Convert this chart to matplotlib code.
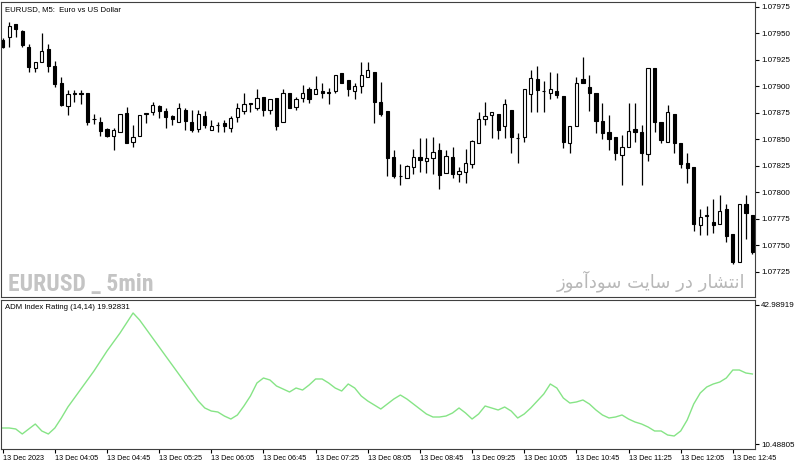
import numpy as np
import matplotlib
matplotlib.use("Agg")
import matplotlib.pyplot as plt

# EURUSD M5 candles, 13 Dec 2023 03:25 .. 13:00
opens = [1.07944, 1.07946, 1.07959, 1.07952, 1.07937, 1.07917, 1.07923, 1.07935, 1.07919, 1.07903,
         1.07881, 1.07893, 1.07894, 1.07894, 1.07869, 1.07866, 1.07860, 1.07853, 1.07857, 1.07875,
         1.07847, 1.07853, 1.07874, 1.07876, 1.07881, 1.07877, 1.07872, 1.07866, 1.07878, 1.07866,
         1.07860, 1.07872, 1.07859, 1.07863, 1.07865, 1.07861, 1.07871, 1.07877, 1.07884, 1.07879,
         1.07890, 1.07878, 1.07889, 1.07866, 1.07894, 1.07880, 1.07889, 1.07897, 1.07893, 1.07895,
         1.07894, 1.07895, 1.07912, 1.07906, 1.07895, 1.07900, 1.07909, 1.07913, 1.07885, 1.07877,
         1.07833, 1.07815, 1.07813, 1.07824, 1.07833, 1.07829, 1.07832, 1.07840, 1.07818, 1.07833,
         1.07817, 1.07819, 1.07827, 1.07846, 1.07869, 1.07873, 1.07874, 1.07862, 1.07878, 1.07851,
         1.07852, 1.07893, 1.07907, 1.07895, 1.07894, 1.07895, 1.07891, 1.07846, 1.07862, 1.07907,
         1.07899, 1.07894, 1.07867, 1.07857, 1.07852, 1.07835, 1.07843, 1.07860, 1.07857, 1.07836,
         1.07917, 1.07866, 1.07847, 1.07874, 1.07846, 1.07828, 1.07824, 1.07769, 1.07778, 1.07772,
         1.07770, 1.07784, 1.07761, 1.07734, 1.07789, 1.07779]
highs = [1.07945, 1.07961, 1.07959, 1.07953, 1.07940, 1.07923, 1.07950, 1.07940, 1.07924, 1.07909,
         1.07896, 1.07896, 1.07896, 1.07894, 1.07874, 1.07871, 1.07861, 1.07861, 1.07874, 1.07880,
         1.07863, 1.07873, 1.07874, 1.07885, 1.07882, 1.07879, 1.07873, 1.07884, 1.07879, 1.07878,
         1.07878, 1.07877, 1.07868, 1.07866, 1.07868, 1.07872, 1.07884, 1.07894, 1.07884, 1.07897,
         1.07890, 1.07888, 1.07889, 1.07897, 1.07894, 1.07890, 1.07901, 1.07899, 1.07910, 1.07903,
         1.07898, 1.07911, 1.07912, 1.07906, 1.07903, 1.07923, 1.07923, 1.07913, 1.07904, 1.07877,
         1.07840, 1.07827, 1.07826, 1.07841, 1.07851, 1.07851, 1.07852, 1.07846, 1.07840, 1.07843,
         1.07824, 1.07841, 1.07849, 1.07876, 1.07885, 1.07876, 1.07874, 1.07888, 1.07878, 1.07856,
         1.07897, 1.07915, 1.07919, 1.07905, 1.07913, 1.07912, 1.07891, 1.07862, 1.07909, 1.07928,
         1.07911, 1.07894, 1.07884, 1.07873, 1.07852, 1.07854, 1.07884, 1.07884, 1.07863, 1.07917,
         1.07917, 1.07866, 1.07882, 1.07874, 1.07846, 1.07837, 1.07824, 1.07784, 1.07787, 1.07794,
         1.07797, 1.07789, 1.07761, 1.07789, 1.07797, 1.07779]
lows = [1.07936, 1.07937, 1.07946, 1.07937, 1.07913, 1.07913, 1.07923, 1.07913, 1.07899, 1.07881,
        1.07873, 1.07885, 1.07883, 1.07863, 1.07864, 1.07853, 1.07852, 1.07840, 1.07857, 1.07846,
        1.07843, 1.07853, 1.07865, 1.07873, 1.07870, 1.07861, 1.07863, 1.07866, 1.07859, 1.07857,
        1.07857, 1.07861, 1.07859, 1.07857, 1.07857, 1.07857, 1.07866, 1.07874, 1.07876, 1.07878,
        1.07872, 1.07874, 1.07859, 1.07866, 1.07879, 1.07878, 1.07885, 1.07884, 1.07893, 1.07889,
        1.07883, 1.07894, 1.07903, 1.07891, 1.07888, 1.07894, 1.07909, 1.07865, 1.07872, 1.07815,
        1.07813, 1.07807, 1.07813, 1.07817, 1.07819, 1.07818, 1.07817, 1.07803, 1.07818, 1.07813,
        1.07810, 1.07809, 1.07823, 1.07846, 1.07863, 1.07851, 1.07850, 1.07851, 1.07837, 1.07828,
        1.07847, 1.07876, 1.07876, 1.07876, 1.07888, 1.07889, 1.07842, 1.07837, 1.07862, 1.07903,
        1.07877, 1.07856, 1.07850, 1.07840, 1.07830, 1.07807, 1.07843, 1.07847, 1.07807, 1.07829,
        1.07857, 1.07846, 1.07847, 1.07837, 1.07823, 1.07809, 1.07763, 1.07760, 1.07760, 1.07762,
        1.07770, 1.07753, 1.07732, 1.07734, 1.07756, 1.07742]
closes = [1.07937, 1.07957, 1.07954, 1.07939, 1.07918, 1.07923, 1.07933, 1.07919, 1.07902, 1.07882,
          1.07893, 1.07894, 1.07893, 1.07866, 1.07869, 1.07858, 1.07853, 1.07859, 1.07874, 1.07846,
          1.07852, 1.07873, 1.07874, 1.07882, 1.07877, 1.07871, 1.07869, 1.07879, 1.07867, 1.07859,
          1.07874, 1.07863, 1.07862, 1.07863, 1.07862, 1.07870, 1.07879, 1.07883, 1.07883, 1.07889,
          1.07878, 1.07888, 1.07862, 1.07894, 1.07879, 1.07888, 1.07894, 1.07888, 1.07897, 1.07894,
          1.07894, 1.07911, 1.07903, 1.07897, 1.07900, 1.07911, 1.07915, 1.07885, 1.07874, 1.07832,
          1.07815, 1.07815, 1.07825, 1.07833, 1.07830, 1.07832, 1.07838, 1.07816, 1.07834, 1.07817,
          1.07820, 1.07828, 1.07848, 1.07869, 1.07872, 1.07876, 1.07859, 1.07883, 1.07852, 1.07851,
          1.07897, 1.07908, 1.07896, 1.07895, 1.07897, 1.07892, 1.07847, 1.07862, 1.07903, 1.07903,
          1.07894, 1.07867, 1.07856, 1.07850, 1.07837, 1.07843, 1.07858, 1.07857, 1.07837, 1.07917,
          1.07866, 1.07849, 1.07876, 1.07846, 1.07827, 1.07823, 1.07770, 1.07777, 1.07778, 1.07769,
          1.07782, 1.07759, 1.07734, 1.07789, 1.07780, 1.07744]

# ADM Index Rating (14,14)
adm = [14.23, 14.23, 14.00, 12.83, 14.00, 15.16, 13.53, 12.83, 14.23, 16.57,
       19.14, 21.24, 23.35, 25.45, 27.56, 29.89, 32.23, 34.34, 36.44, 38.78,
       41.12, 39.48, 37.38, 35.27, 33.17, 31.06, 28.96, 26.86, 24.75, 22.65,
       20.54, 18.91, 18.20, 17.97, 17.03, 16.33, 17.27, 19.37, 21.71, 24.75,
       25.92, 25.45, 24.05, 23.35, 22.65, 23.58, 23.11, 24.28, 25.69, 25.69,
       24.75, 23.58, 22.88, 24.52, 23.58, 21.71, 20.54, 19.61, 18.67, 19.84,
       21.01, 21.94, 21.01, 19.84, 18.67, 17.50, 16.80, 16.80, 17.03, 17.74,
       18.91, 17.74, 16.33, 17.50, 19.37, 18.91, 18.44, 19.14, 18.20, 16.57,
       17.50, 18.91, 20.54, 22.18, 24.52, 23.58, 21.24, 20.07, 20.31, 20.78,
       19.84, 18.44, 17.27, 16.57, 16.80, 17.27, 16.33, 15.63, 15.16, 14.46,
       13.53, 13.53, 12.59, 12.36, 13.53, 16.10, 19.84, 22.41, 23.82, 24.52,
       24.98, 25.92, 27.79, 27.79, 27.09, 26.86]

time_labels = ["13 Dec 2023", "13 Dec 04:05", "13 Dec 04:45", "13 Dec 05:25", "13 Dec 06:05",
               "13 Dec 06:45", "13 Dec 07:25", "13 Dec 08:05", "13 Dec 08:45", "13 Dec 09:25",
               "13 Dec 10:05", "13 Dec 10:45", "13 Dec 11:25", "13 Dec 12:05", "13 Dec 12:45"]
price_ticks = [1.07725, 1.07750, 1.07775, 1.07800, 1.07825, 1.07850, 1.07875, 1.07900, 1.07925, 1.07950, 1.07975]

plt.rcParams['font.family'] = ['Liberation Sans', 'DejaVu Sans']
SMALL = 5.2

W, H = 800, 466
fig = plt.figure(figsize=(8, 4.66), dpi=100)
fig.patch.set_facecolor("white")


def px_axes(x0, y0, x1, y1):
    return fig.add_axes([x0 / W, 1 - y1 / H, (x1 - x0) / W, (y1 - y0) / H])


ax = px_axes(1, 2, 755, 297)
ax2 = px_axes(1, 300, 755, 449)

o = np.array(opens); h = np.array(highs); l = np.array(lows); c = np.array(closes)
x = np.arange(len(o))
up = c >= o
body_lo = np.minimum(o, c)
body_h = np.maximum(np.abs(c - o), 0.000003)

ax.vlines(x, l, h, color="black", linewidth=0.9, zorder=1)
ax.bar(x, body_h, bottom=body_lo, width=0.5,
       color=np.where(up, "white", "black"), edgecolor="black", linewidth=0.8, zorder=2)

xlim = (-0.26, 115.4)
ax.set_xlim(*xlim)
ax.set_ylim(1.077012, 1.079794)
ax.yaxis.tick_right()
ax.set_yticks(price_ticks)
ax.set_yticklabels([f"{p:.5f}" for p in price_ticks])
ax.set_xticks([])

ax.text(0.005, 0.985, "EURUSD, M5:  Euro vs US Dollar", transform=ax.transAxes,
        fontsize=SMALL + 0.4, va="top", ha="left")
ax.text(0.009, 0.002, "EURUSD _ 5min", transform=ax.transAxes, fontsize=17,
        fontweight="bold", fontstretch="condensed", color="#c4c4c4", va="bottom", ha="left",
        family=["Roboto Condensed", "Open Sans Condensed", "Liberation Sans Narrow",
                "DejaVu Sans Condensed", "DejaVu Sans"])
fa = ("\ufeaf\ufeee\ufee3\ufe81\ufea9\ufeee\ufeb3 "
      "\ufe96\ufbfe\ufe8e\ufeb3 "
      "\ufead\ufea9 "
      "\ufead\ufe8e\ufeb8\ufe98\ufee7\ufe8d")
ax.text(0.987, 0.018, fa, transform=ax.transAxes, fontsize=13, color="#b8b8b8",
        va="bottom", ha="right", family="DejaVu Sans")

ax2.plot(x, adm, color="#86e486", linewidth=1.0)
ax2.set_xlim(*xlim)
ax2.set_ylim(9.319, 44.158)
ax2.yaxis.tick_right()
ax2.set_yticks([10.48805, 42.98919])
ax2.set_yticklabels(["10.48805", "42.98919"])
ax2.set_xticks(np.arange(0, len(o), 8))
ax2.set_xticklabels(time_labels, ha="left")
ax2.text(0.005, 0.975, "ADM Index Rating (14,14) 19.92831", transform=ax2.transAxes,
         fontsize=SMALL + 0.4, va="top", ha="left")

for a in (ax, ax2):
    a.tick_params(axis="both", labelsize=SMALL + 0.6, length=3, width=0.8, pad=1.5, colors="black")
    a.tick_params(axis="x", labelsize=SMALL)
    for s in a.spines.values():
        s.set_linewidth(0.8)
        s.set_color("#404040")

fig.savefig("out.png", dpi=100, facecolor="white")
